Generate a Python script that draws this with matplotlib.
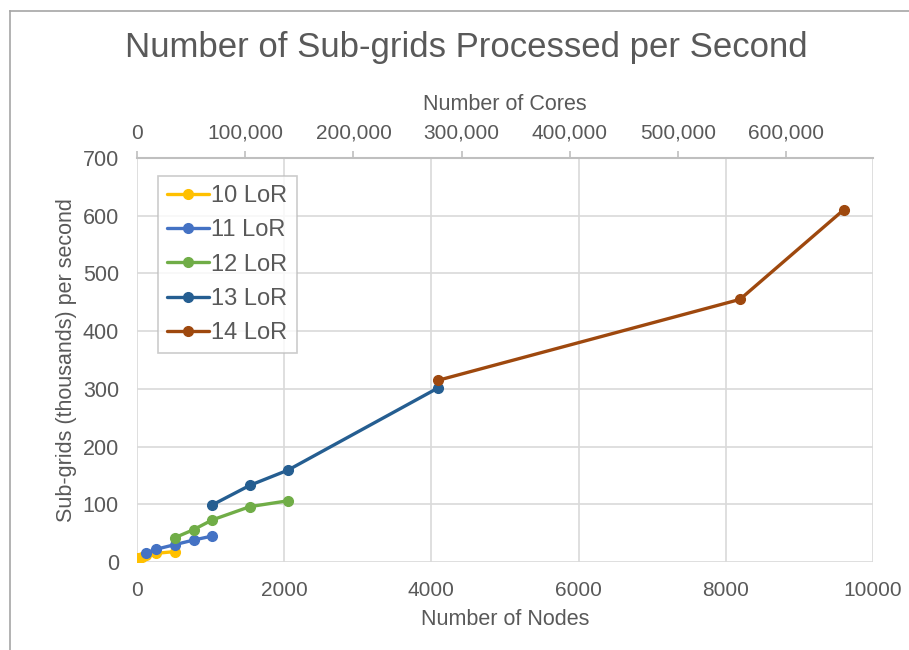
import matplotlib
matplotlib.use("Agg")
import matplotlib.pyplot as plt
from matplotlib.lines import Line2D
from matplotlib.ticker import FuncFormatter

plt.rcParams['font.family'] = ['Liberation Sans', 'DejaVu Sans']

# data (nodes, thousands of sub-grids per second)
labels = ["10 LoR", "11 LoR", "12 LoR", "13 LoR", "14 LoR"]
nodes_10 = [16, 64, 128, 256, 512]
rate_10 = [7, 9, 12, 15, 18]
nodes_11 = [128, 256, 512, 768, 1024]
rate_11 = [16, 22, 30, 38, 45]
nodes_12 = [512, 768, 1024, 1536, 2048]
rate_12 = [42, 56, 73, 96, 106]
nodes_13 = [1024, 1536, 2048, 4096]
rate_13 = [99, 133, 159, 302]
nodes_14 = [4096, 8192, 9600]
rate_14 = [315, 455, 610]
colors = ["#FFC000", "#4472C4", "#70AD47", "#255E91", "#9E480E"]

cores_per_node = 68
top_ticks = [0, 100000, 200000, 300000, 400000, 500000, 600000]

txt = "#595959"
grid_c = "#d9d9d9"

fig = plt.figure(figsize=(9.09, 6.5), dpi=100)
ax = fig.add_axes([137/909, 1-562/650, (873-137)/909, (562-158)/650])

series = [(nodes_10, rate_10), (nodes_11, rate_11), (nodes_12, rate_12),
          (nodes_13, rate_13), (nodes_14, rate_14)]
for (x, y), c, lab in zip(series, colors, labels):
    ax.plot(x, y, color=c, lw=2.4, marker='o', ms=7, label=lab,
            solid_capstyle='round', zorder=3)

ax.set_xlim(0, 10000)
ax.set_ylim(0, 700)
ax.set_xticks(range(0, 10001, 2000))
ax.set_yticks(range(0, 701, 100))
ax.grid(True, color=grid_c, lw=1.2)
ax.set_axisbelow(True)
for s in ax.spines.values():
    s.set_visible(False)
ax.tick_params(axis='x', length=0, labelsize=15, colors=txt, pad=14)
ax.tick_params(axis='y', length=0, labelsize=15.5, colors=txt, pad=13)
ax.set_xlabel("Number of Nodes", fontsize=15.5, color=txt, labelpad=6)
ax.set_ylabel("Sub-grids (thousands) per second", fontsize=15.5, color=txt, labelpad=4)

ax2 = ax.twiny()
ax2.set_xlim(0, 10000 * cores_per_node)
ax2.set_xticks(top_ticks)
ax2.xaxis.set_major_formatter(FuncFormatter(lambda v, p: f"{int(v):,}"))
for k, s in ax2.spines.items():
    s.set_visible(k == "top")
ax2.spines["top"].set_color("#bfbfbf")
ax2.spines["top"].set_linewidth(1.5)
ax2.tick_params(axis='x', direction='out', length=5, width=1.2, color="#bfbfbf",
                labelsize=15, labelcolor=txt, pad=6)
ax2.set_xlabel("Number of Cores", fontsize=15.5, color=txt, labelpad=10)

leg = ax.legend(loc='upper left', bbox_to_anchor=(0.029, 0.955), fontsize=17,
                frameon=True, fancybox=False, edgecolor="#bfbfbf",
                handlelength=1.75, handletextpad=0.12, labelspacing=0.52,
                borderpad=0.38, borderaxespad=0)
for t in leg.get_texts():
    t.set_color(txt)
leg.get_frame().set_linewidth(1.2)

fig.text(466/909, 1-48/650, "Number of Sub-grids Processed per Second",
         ha='center', va='center', fontsize=25, color=txt)

# chart area border (clipped in the reference)
fig.add_artist(Line2D([10/909, 10/909], [0, 1-11/650], color="#a6a6a6", lw=1.2))
fig.add_artist(Line2D([10/909, 1], [1-11/650, 1-11/650], color="#a6a6a6", lw=1.2))

fig.savefig("out.png", dpi=100)
